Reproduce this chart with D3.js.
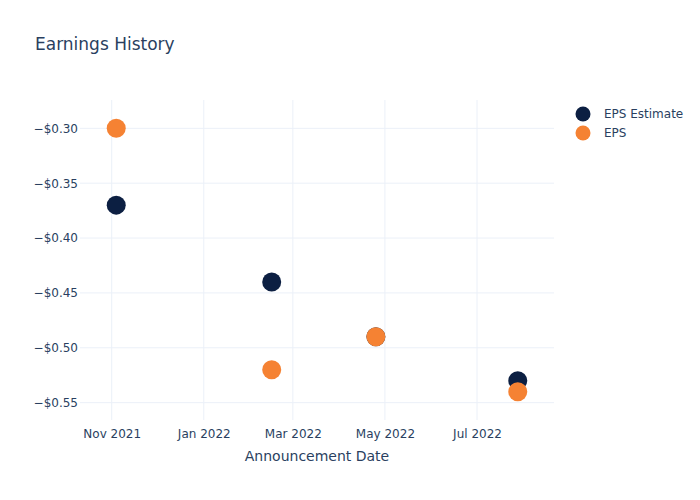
<!DOCTYPE html>
<html><head><meta charset="utf-8">
<script src="https://cdn.jsdelivr.net/npm/d3@7"></script>
<style>body{margin:0;background:#fff}svg{font-family:"DejaVu Sans",Verdana,sans-serif}</style>
</head><body>
<div id="chart"></div>
<script>
const dates = ["2021-11-04","2022-02-15","2022-04-25","2022-07-28"];
const epsEstimate = [-0.37,-0.44,-0.49,-0.53];
const eps = [-0.30,-0.52,-0.49,-0.54];
const seriesNames = ["EPS Estimate","EPS"];
const seriesColors = ["#0c1f42","#f58233"];
const yTicks = [-0.30,-0.35,-0.40,-0.45,-0.50,-0.55];
const xTickDates = ["2021-11-01","2022-01-01","2022-03-01","2022-05-01","2022-07-01"];

const W=700,H=500,m={l:80,r:146,t:100,b:80};
const FONT='"DejaVu Sans",Verdana,sans-serif';
const parse=d3.utcParse("%Y-%m-%d");
const svg=d3.select("#chart").append("svg").attr("width",W).attr("height",H);
const x=d3.scaleUtc().domain([parse("2021-10-11"),parse("2022-08-21")]).range([m.l,W-m.r]);
const y=d3.scaleLinear().domain([-0.5658,-0.2742]).range([H-m.b,m.t]);
const grid="#ebf0f8", txt="#2a3f5f";

svg.append("g").selectAll("line").data(xTickDates).join("line")
  .attr("x1",d=>x(parse(d))).attr("x2",d=>x(parse(d))).attr("y1",m.t).attr("y2",H-m.b)
  .attr("stroke",grid).attr("stroke-width",1);
svg.append("g").selectAll("line").data(yTicks).join("line")
  .attr("x1",m.l).attr("x2",W-m.r).attr("y1",d=>y(d)).attr("y2",d=>y(d))
  .attr("stroke",grid).attr("stroke-width",1);

const fmtY=d=>(d<0?"\u2212":"")+"$"+Math.abs(d).toFixed(2);
const yAxis=d3.axisLeft(y).tickValues(yTicks).tickFormat(fmtY).tickSize(0).tickPadding(2);
const gy=svg.append("g").attr("transform",`translate(${m.l},0)`).call(yAxis).attr("font-family",FONT);
gy.select(".domain").remove();
gy.selectAll("text").attr("fill",txt).attr("font-size",12).attr("x",-2);

const fmtX=d3.utcFormat("%b %Y");
const xAxis=d3.axisBottom(x).tickValues(xTickDates.map(parse)).tickFormat(fmtX).tickSize(0).tickPadding(9);
const gx=svg.append("g").attr("transform",`translate(0,${H-m.b})`).call(xAxis).attr("font-family",FONT);
gx.select(".domain").remove();
gx.selectAll("text").attr("fill",txt).attr("font-size",12);

const series=[epsEstimate,eps];
series.forEach((vals,i)=>{
  svg.append("g").selectAll("circle").data(vals).join("circle")
    .attr("cx",(d,j)=>x(parse(dates[j]))).attr("cy",d=>y(d)).attr("r",9.5)
    .attr("fill",seriesColors[i]);
});

svg.append("text").attr("x",35).attr("y",50).attr("fill",txt).attr("font-size",17).text("Earnings History");
svg.append("text").attr("x",(m.l+W-m.r)/2).attr("y",461).attr("text-anchor","middle")
  .attr("fill",txt).attr("font-size",14).text("Announcement Date");

const lg=svg.append("g");
seriesNames.forEach((n,i)=>{
  lg.append("circle").attr("cx",583).attr("cy",114+i*19).attr("r",7.5).attr("fill",seriesColors[i]);
  lg.append("text").attr("x",604).attr("y",118+i*19).attr("fill",txt).attr("font-size",12).text(n);
});
</script>
</body></html>
